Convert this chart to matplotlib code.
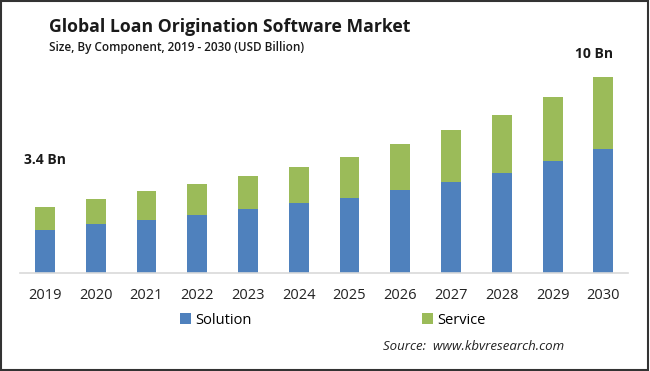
import matplotlib.pyplot as plt
import numpy as np
from matplotlib.patches import Rectangle

years = ['2019', '2020', '2021', '2022', '2023', '2024',
         '2025', '2026', '2027', '2028', '2029', '2030']
solution = [2.20, 2.49, 2.72, 2.95, 3.25, 3.56, 3.83, 4.24, 4.65, 5.13, 5.72, 6.32]
service = [1.16, 1.28, 1.45, 1.60, 1.71, 1.87, 2.11, 2.35, 2.66, 2.93, 3.29, 3.68]
first_label = '3.4 Bn'
last_label = '10 Bn'

blue = '#4f81bd'
green = '#9bbb59'
font = ['Open Sans', 'DejaVu Sans']
plt.rcParams['font.family'] = font

fig = plt.figure(figsize=(6.5, 3.71), dpi=100)
ax = fig.add_axes([0.0308, 0.2642, 0.935, 0.6065])

x = np.arange(len(years))
ax.bar(x, solution, width=0.39, color=blue, label='Solution')
ax.bar(x, service, width=0.39, bottom=solution, color=green, label='Service')

totals = np.array(solution) + np.array(service)
ax.annotate(first_label, (x[0], totals[0]), xytext=(0, 34), textcoords='offset points',
            ha='center', va='center', fontsize=10, fontweight='bold', color='#1a1a1a')
ax.annotate(last_label, (x[-1], totals[-1]), xytext=(-7, 17), textcoords='offset points',
            ha='center', va='center', fontsize=10, fontweight='bold', color='#1a1a1a')

ax.set_xlim(-0.49, 11.48)
ax.set_ylim(0, 11.5)
ax.set_xticks(x)
ax.set_xticklabels(years, fontsize=10.5, color='#222222')
ax.tick_params(axis='x', length=0, pad=11)
ax.set_yticks([])
for s in ['top', 'right', 'left']:
    ax.spines[s].set_visible(False)
ax.spines['bottom'].set_color('#d9d9d9')
ax.spines['bottom'].set_linewidth(1.2)

fig.text(49 / 650, 1 - 27 / 371, 'Global Loan Origination Software Market',
         fontsize=12.7, fontweight='bold', va='center', ha='left', color='#1a1a1a')
fig.text(49 / 650, 1 - 48 / 371, 'Size, By Component, 2019 - 2030 (USD Billion)',
         fontsize=8.5, fontweight='semibold', va='center', ha='left', color='#1a1a1a')

# two separate legends to keep the wide gap between entries
handles, labels = ax.get_legend_handles_labels()
fig.legend(handles[:1], labels[:1], loc='center left', bbox_to_anchor=(180 / 650, 1 - 320 / 371),
           frameon=False, fontsize=10.5, handlelength=0.75, handleheight=0.75, handletextpad=0.3,
           borderaxespad=0, borderpad=0)
fig.legend(handles[1:], labels[1:], loc='center left', bbox_to_anchor=(422 / 650, 1 - 320 / 371),
           frameon=False, fontsize=10.5, handlelength=0.75, handleheight=0.75, handletextpad=0.3,
           borderaxespad=0, borderpad=0)

fig.text(383 / 650, 1 - 347 / 371, 'Source:  www.kbvresearch.com', fontsize=9.5,
         style='italic', va='center', ha='left', color='#222222')

fig.patches.append(Rectangle((0.002, 0.003), 0.995, 0.994, transform=fig.transFigure,
                             fill=False, edgecolor='#333333', linewidth=1.5))

fig.savefig('out.png', dpi=100)
